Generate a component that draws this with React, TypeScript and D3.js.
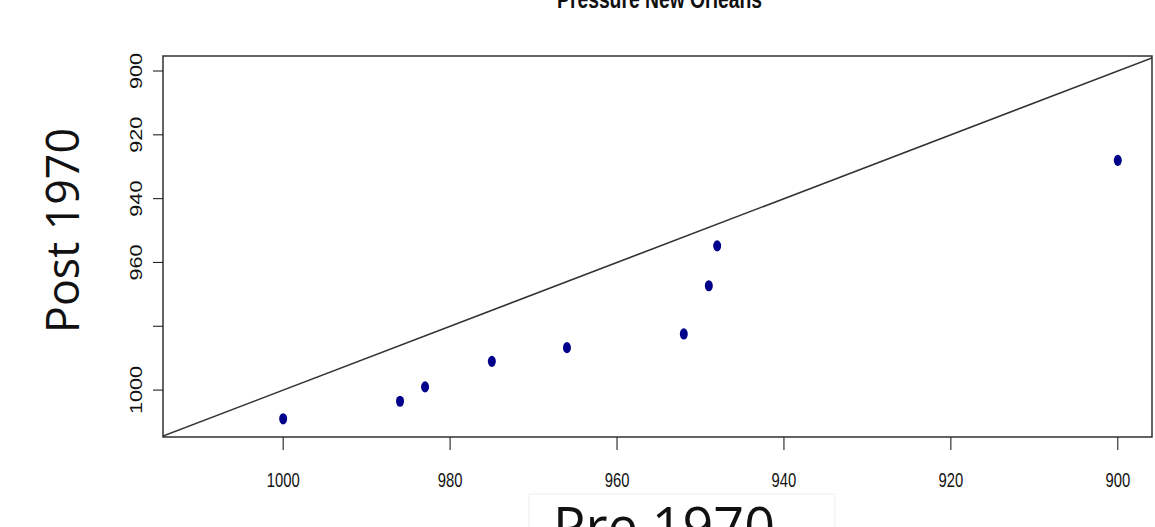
import React from "react";
import * as d3 from "d3";

// Minimum central pressure of storms, before vs after 1970
const pre1970 = [1000, 986, 983, 975, 966, 952, 949, 948, 900];
const post1970 = [1009, 1003.5, 999, 991, 986.7, 982.4, 967.3, 954.8, 928];

const xTicks = [1000, 980, 960, 940, 920, 900];
const xTickLabels = ["1000", "980", "960", "940", "920", "900"];
const yTicks = [900, 920, 940, 960, 980, 1000];
const yTickLabels = ["900", "920", "940", "960", "", "1000"];

const title = "Pressure New Orleans";
const xTitle = "Pre 1970";
const yTitle = "Post 1970";

// axis limits (reversed: higher pressure to the left / bottom)
const xLim: [number, number] = [1014.4, 895.9];
const yLim: [number, number] = [1014.7, 895.3];

const W = 1155;
const H = 527;
const plot = { left: 163, top: 56, right: 1152, bottom: 437 };
const STRETCH = 1.4;
const axisFont = "'Liberation Sans', Arial, Helvetica, sans-serif";

export default function App() {
  const x = d3.scaleLinear().domain(xLim).range([plot.left, plot.right]);
  const y = d3.scaleLinear().domain(yLim).range([plot.bottom, plot.top]);
  const pts = pre1970.map((v, i) => [v, post1970[i]] as [number, number]);
  // y = x reference line across the plot
  const diag = d3.line<number>()
    .x((d) => x(d))
    .y((d) => y(d))(xLim);

  return (
    <svg
      width={W}
      height={H}
      viewBox={`0 0 ${W} ${H}`}
      style={{ position: "absolute", left: 0, top: 0, background: "#fff" }}
    >
      <rect x={0} y={0} width={W} height={H} fill="#fff" />
      <defs>
        <clipPath id="plotClip">
          <rect x={plot.left} y={plot.top} width={plot.right - plot.left} height={plot.bottom - plot.top} />
        </clipPath>
      </defs>

      {/* title */}
      <g transform={`translate(659.5, 8) scale(1, ${STRETCH})`}>
        <text
          x={0}
          y={0}
          textAnchor="middle"
          fontFamily={axisFont}
          fontWeight="bold"
          fontSize={18}
          fill="#111"
          textLength={205}
          lengthAdjust="spacingAndGlyphs"
        >
          {title}
        </text>
      </g>

      {/* identity line */}
      <path d={diag ?? ""} stroke="#333" strokeWidth={1.6} fill="none" clipPath="url(#plotClip)" />

      {/* points */}
      {pts.map(([a, b], i) => (
        <ellipse key={i} cx={x(a)} cy={y(b)} rx={4} ry={5.6} fill="#00008B" />
      ))}

      {/* plot box */}
      <rect
        x={plot.left}
        y={plot.top}
        width={plot.right - plot.left}
        height={plot.bottom - plot.top}
        fill="none"
        stroke="#222"
        strokeWidth={1.4}
      />

      {/* x axis */}
      {xTicks.map((t, i) => (
        <g key={`x${t}`}>
          <line x1={x(t)} x2={x(t)} y1={plot.bottom} y2={plot.bottom + 13} stroke="#222" strokeWidth={1.1} />
          <g transform={`translate(${x(t)}, 487) scale(1, ${STRETCH})`}>
            <text x={0} y={0} textAnchor="middle" fontFamily={axisFont} fontSize={14.8} fill="#111">
              {xTickLabels[i]}
            </text>
          </g>
        </g>
      ))}

      {/* y axis */}
      {yTicks.map((t, i) => (
        <g key={`y${t}`}>
          <line x1={plot.left - 10} x2={plot.left} y1={y(t)} y2={y(t)} stroke="#222" strokeWidth={1.1} />
          <g transform={`translate(142, ${y(t)}) scale(1, 1.35) rotate(-90)`}>
            <text x={0} y={0} textAnchor="middle" fontFamily={axisFont} fontSize={16} fill="#111">
              {yTickLabels[i]}
            </text>
          </g>
        </g>
      ))}

      {/* y title */}
      <text
        transform="translate(79, 230.5) rotate(-90)"
        textAnchor="middle"
        fontFamily="'Open Sans', 'Noto Sans', sans-serif"
        fontSize={45}
        fill="#111"
        textLength={205}
        lengthAdjust="spacingAndGlyphs"
      >
        {yTitle}
      </text>

      {/* x title in its box */}
      <rect x={529} y={494} width={306} height={60} fill="#fff" stroke="#eeeeee" strokeWidth={1} />
      <text
        x={664}
        y={546}
        textAnchor="middle"
        fontFamily="'Open Sans', 'Noto Sans', sans-serif"
        fontSize={54}
        fill="#111"
        textLength={222}
        lengthAdjust="spacingAndGlyphs"
      >
        {xTitle}
      </text>
    </svg>
  );
}
